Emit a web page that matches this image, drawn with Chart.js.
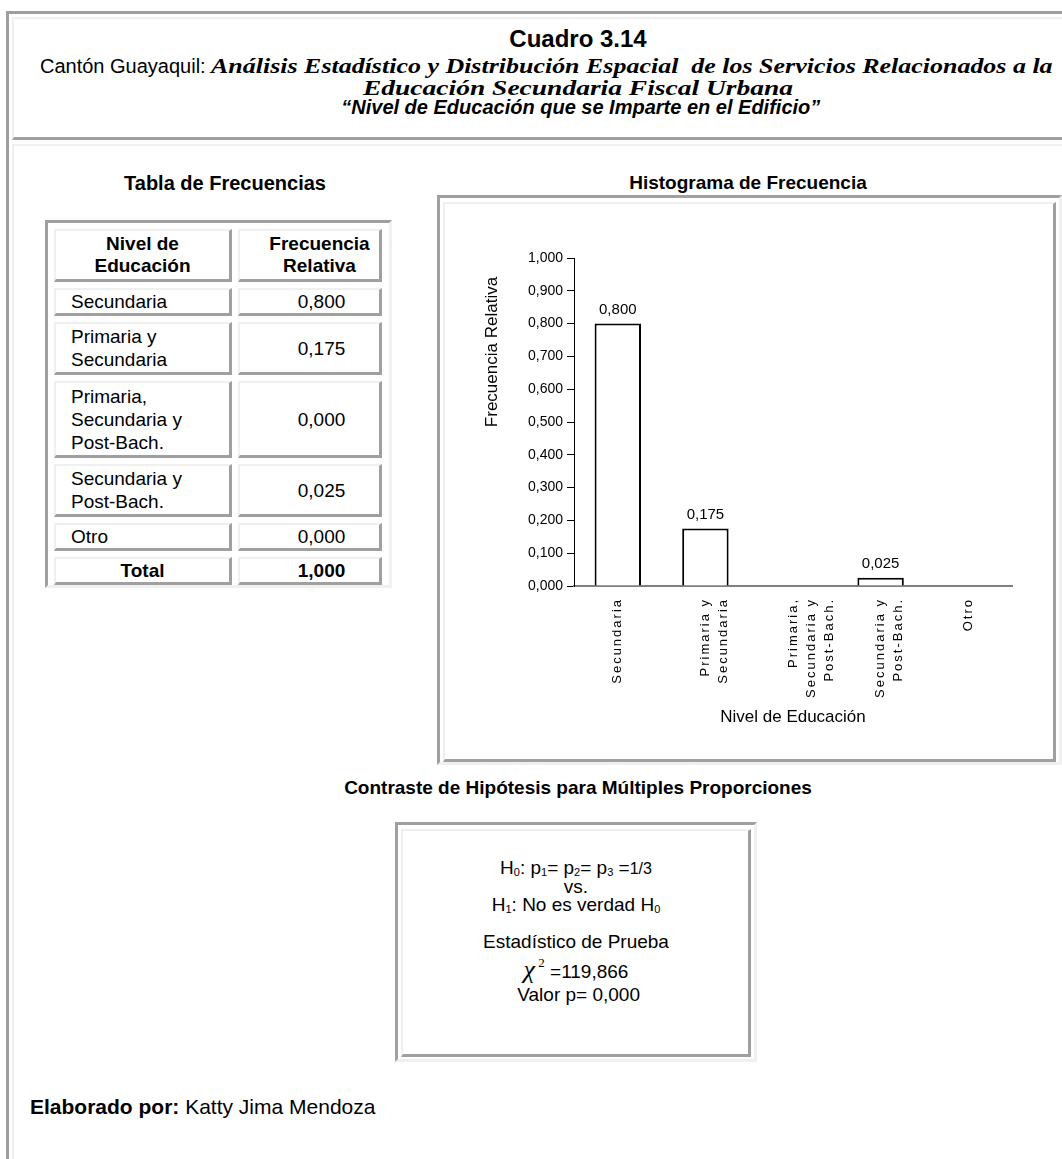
<!DOCTYPE html>
<html>
<head>
<meta charset="utf-8">
<script src="https://cdn.jsdelivr.net/npm/chart.js@4"></script>
<style>
  body { margin: 0; background: #fff; font-family: Arial, "Liberation Sans", sans-serif; color: #000; }
  #page { position: relative; width: 1062px; height: 1159px; overflow: hidden; }
  .abs { position: absolute; box-sizing: border-box; }
  .outer { border-top: 3px solid #a0a0a0; border-left: 3px solid #a0a0a0; border-right: 3px solid #f0f0f0; border-bottom: 3px solid #f0f0f0; }
  .inner { border-top: 2px solid #f0f0f0; border-left: 2px solid #f0f0f0; border-right: 3px solid #a0a0a0; border-bottom: 3px solid #a0a0a0; }
  .serif { font-family: "Times New Roman", "Liberation Serif", serif; font-weight: bold; font-style: italic; font-size: 22px; }
  .ttl { font-weight: bold; font-size: 19px; text-align: center; white-space: nowrap; }
  #freqTable { border-collapse: separate; border-spacing: 6px; font-size: 19px; }
  #freqTable td { box-sizing: border-box; padding: 0; line-height: 23px; vertical-align: middle;
    border-top: 2px solid #f0f0f0; border-left: 2px solid #f0f0f0; border-right: 3px solid #a0a0a0; border-bottom: 3px solid #a0a0a0; }
  #freqTable td.lab { padding-left: 15px; }
  #freqTable td.val { text-align: center; padding-left: 24px; }
  #freqTable th { box-sizing: border-box; padding: 0; line-height: 22px; font-weight: bold;
    border-top: 2px solid #f0f0f0; border-left: 2px solid #f0f0f0; border-right: 3px solid #a0a0a0; border-bottom: 3px solid #a0a0a0; }
  #hyp { text-align: center; font-size: 19px; line-height: 18px; }
  #hyp sub { font-size: 11px; vertical-align: -2px; line-height: 0; }
</style>
</head>
<body>
<div id="page">
  <!-- page frame -->
  <div class="abs" style="left:6px; top:11px; width:1200px; height:1300px; border-top:3px solid #a0a0a0; border-left:3px solid #a0a0a0;"></div>
  <div class="abs" style="left:12px; top:17px; width:1200px; height:123px; border-top:2px solid #f0f0f0; border-left:2px solid #f0f0f0; border-bottom:3px solid #a0a0a0;"></div>
  <div class="abs" style="left:12px; top:144px; width:1200px; height:1200px; border-top:2px solid #f0f0f0; border-left:2px solid #f0f0f0;"></div>

  <!-- header -->
  <div class="abs" style="left:78px; top:26px; width:1000px; text-align:center; font-weight:bold; font-size:24px; line-height:26px;">Cuadro 3.14</div>
  <div class="abs" style="left:40px; top:55px; font-size:20px; line-height:22px; white-space:nowrap;">
    Cantón Guayaquil: <span class="serif" style="display:inline-block; transform:scaleX(1.18); transform-origin:left center;">Análisis Estadístico y Distribución Espacial&nbsp; de los Servicios Relacionados a la</span>
  </div>
  <div class="abs" style="left:78px; top:78px; width:1000px; text-align:center; line-height:20px;">
    <span class="serif" style="display:inline-block; transform:scaleX(1.25);">Educación Secundaria Fiscal Urbana</span>
  </div>
  <div class="abs" style="left:78px; top:96px; width:1000px; text-align:center; font-size:20px; line-height:22px; font-weight:bold; font-style:italic; white-space:nowrap;">&nbsp;“Nivel de Educación que se Imparte en el Edificio”</div>

  <!-- section titles -->
  <div class="abs ttl" style="left:25px; top:172px; width:400px; font-size:20px;">Tabla de Frecuencias</div>
  <div class="abs ttl" style="left:548px; top:172px; width:400px;">Histograma de Frecuencia</div>
  <div class="abs ttl" style="left:278px; top:777px; width:600px;">Contraste de Hipótesis para Múltiples Proporciones</div>

  <!-- frequency table -->
  <div class="abs outer" style="left:45px; top:220px; width:347px; height:368px;">
    <table id="freqTable"></table>
  </div>

  <!-- chart frame -->
  <div class="abs outer" style="left:437px; top:195px; width:625px; height:570px;"></div>
  <div class="abs inner" style="left:443px; top:202px; width:613px; height:560px;"></div>
  <canvas id="histChart" class="abs" width="604" height="551" style="left:446px; top:205px;"></canvas>

  <!-- hypothesis box -->
  <div class="abs outer" style="left:395px; top:822px; width:362px; height:240px;"></div>
  <div class="abs inner" style="left:401px; top:829px; width:350px; height:228px;"></div>
  <div id="hyp" class="abs" style="left:401px; top:859px; width:350px;">
    H<sub>0</sub>: p<sub>1</sub>= p<sub>2</sub>= p<sub>3</sub> =<span style="font-size:16px">1/3</span><br>
    vs.<br>
    H<sub>1</sub>: No es verdad H<sub>0</sub><br>
    <div style="height:19px"></div>
    Estadístico de Prueba<br>
    <div style="margin-top:10px;"><span style="font-family:'Times New Roman','Liberation Serif',serif; font-style:italic; font-size:26px;">χ</span><sup style="font-family:'Times New Roman','Liberation Serif',serif; font-size:13px; vertical-align:11px; line-height:0;">&nbsp;2</sup> =119,866</div>
    <div style="margin-top:5px;">&nbsp;Valor p= 0,000</div>
  </div>

  <!-- footer -->
  <div class="abs" style="left:30px; top:1096px; font-size:21px; line-height:22px; white-space:nowrap;"><b>Elaborado por:</b> Katty Jima Mendoza</div>
</div>

<script>
// ----------------------------
// Data
// ----------------------------
const categories = [
  ["Secundaria"],
  ["Primaria y", "Secundaria"],
  ["Primaria,", "Secundaria y", "Post-Bach."],
  ["Secundaria y", "Post-Bach."],
  ["Otro"]
];
const relFreq = [0.800, 0.175, 0.000, 0.025, 0.000];
const totalFreq = 1.000;
const yTickStep = 0.1;
const yMin = 0;
const yMax = 1;

const FONT = "Arial, 'Liberation Sans', sans-serif";

function fmt(v) {
  return Number(v).toFixed(3).replace('.', ',');
}

// ----------------------------
// Frequency table
// ----------------------------
const rowHeights = { 1: 26, 2: 53, 3: 77 };
const table = document.getElementById("freqTable");
table.innerHTML =
  `<tr><th style="width:178px; height:53px;">Nivel de<br>Educación</th>
       <th style="width:144px; height:53px; padding-left:20px;">Frecuencia<br>Relativa</th></tr>` +
  categories.map((c, i) => `
    <tr>
      <td class="lab" style="height:${rowHeights[c.length]}px;">${c.join('<br>')}</td>
      <td class="val">${fmt(relFreq[i])}</td>
    </tr>`).join('') +
  `<tr><td style="height:27px; text-align:center; font-weight:bold;">Total</td>
       <td class="val" style="font-weight:bold;">${fmt(totalFreq)}</td></tr>`;

// ----------------------------
// Plugins
// ----------------------------
// value labels above non-zero bars
const valueLabels = {
  id: 'valueLabels',
  afterDatasetsDraw(chart) {
    const ctx = chart.ctx;
    const meta = chart.getDatasetMeta(0);
    ctx.save();
    ctx.font = "15px " + FONT;
    ctx.fillStyle = "#000";
    ctx.textAlign = "center";
    ctx.textBaseline = "bottom";
    meta.data.forEach((bar, i) => {
      const v = relFreq[i];
      if (v > 0) ctx.fillText(fmt(v), bar.x, bar.y - 6);
    });
    ctx.restore();
  }
};

// wide letter spacing on the rotated category labels
const spacedLabels = {
  id: 'spacedLabels',
  beforeDraw(chart) {
    const sx = chart.scales.x;
    if (sx.drawLabels.__spaced) return;
    const draw = sx.drawLabels;
    const fn = function (area) {
      this.ctx.save();
      this.ctx.letterSpacing = '2px';
      draw.call(this, area);
      this.ctx.restore();
    };
    fn.__spaced = true;
    sx.drawLabels = fn;
  }
};

// ----------------------------
// Histogram
// ----------------------------
const ctx = document.getElementById("histChart").getContext("2d");

new Chart(ctx, {
  type: 'bar',
  data: {
    labels: categories,
    datasets: [{
      data: relFreq,
      backgroundColor: '#ffffff',
      borderColor: '#000000',
      borderWidth: 2,
      barPercentage: 0.53,
      categoryPercentage: 1
    }]
  },
  options: {
    responsive: false,
    animation: false,
    layout: { padding: { top: 53, right: 38, left: 0, bottom: 0 } },
    plugins: { legend: { display: false }, tooltip: { enabled: false } },
    scales: {
      x: {
        grid: { display: false },
        border: { color: '#808080', width: 2 },
        ticks: { minRotation: 90, maxRotation: 90, autoSkip: false, padding: 4, color: '#000', font: { family: FONT, size: 13, lineHeight: 1.4 } },
        title: { display: true, text: 'Nivel de Educación', color: '#000', font: { family: FONT, size: 17 }, padding: { top: 0, bottom: 28 } },
        afterFit: s => { s.height = 170; }
      },
      y: {
        min: yMin,
        max: yMax,
        ticks: { stepSize: yTickStep, padding: 4, color: '#000', font: { family: FONT, size: 14 }, callback: v => fmt(v) },
        grid: { drawOnChartArea: false, drawTicks: true, tickLength: 7, color: '#000' },
        border: { color: '#000', width: 1 },
        title: { display: true, align: 'end', text: 'Frecuencia Relativa    ', color: '#000', font: { family: FONT, size: 17 }, padding: { top: 36, bottom: 0 } },
        afterFit: s => { s.width = 128; }
      }
    }
  },
  plugins: [valueLabels, spacedLabels]
});
</script>
</body>
</html>
